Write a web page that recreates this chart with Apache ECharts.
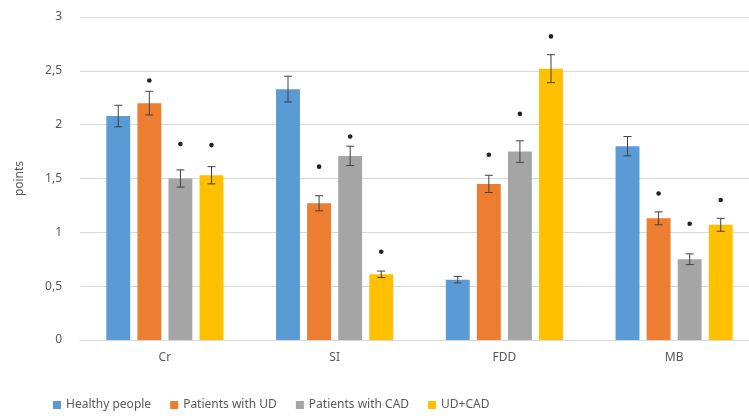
<!DOCTYPE html>
<html style="height: 100%">
<head>
  <meta charset="utf-8">
</head>
<body style="height: 100%; margin: 0; background: #fff">
  <div id="container" style="height: 418px; width: 749px;"></div>
  <script type="text/javascript" src="https://cdn.jsdelivr.net/npm/echarts@6/dist/echarts.min.js"></script>
  <script type="text/javascript">
    var categories = ['Cr', 'SI', 'FDD', 'MB'];
    var seriesNames = ['Healthy people', 'Patients with UD', 'Patients with CAD', 'UD+CAD'];
    var healthy = [2.08, 2.33, 0.56, 1.80];
    var patientsUD = [2.20, 1.27, 1.45, 1.13];
    var patientsCAD = [1.50, 1.71, 1.75, 0.75];
    var udCad = [1.53, 0.61, 2.52, 1.07];
    // error bar half-widths
    var healthyErr = [0.10, 0.12, 0.03, 0.09];
    var patientsUDErr = [0.11, 0.07, 0.08, 0.06];
    var patientsCADErr = [0.08, 0.09, 0.10, 0.05];
    var udCadErr = [0.08, 0.03, 0.13, 0.06];
    // significance marks (dot height), null = no mark
    var healthyMark = [null, null, null, null];
    var patientsUDMark = [2.41, 1.61, 1.72, 1.36];
    var patientsCADMark = [1.82, 1.89, 2.10, 1.08];
    var udCadMark = [1.81, 0.82, 2.82, 1.30];
    var yTicks = ['0', '0,5', '1', '1,5', '2', '2,5', '3'];

    var colors = ['#5B9BD5', '#ED7D31', '#A5A5A5', '#FFC000'];
    var values = [healthy, patientsUD, patientsCAD, udCad];
    var errs = [healthyErr, patientsUDErr, patientsCADErr, udCadErr];
    var marks = [healthyMark, patientsUDMark, patientsCADMark, udCadMark];
    var catGap = 0.31, barGap = 0.3, n = 4;

    var series = [];
    values.forEach(function (vals, i) {
      series.push({
        name: seriesNames[i],
        type: 'bar',
        data: vals,
        barGap: '30%',
        barCategoryGap: '31%',
        itemStyle: { color: colors[i] },
        z: 2
      });
    });
    values.forEach(function (vals, i) {
      series.push({
        name: seriesNames[i] + ' err',
        type: 'custom',
        z: 5,
        silent: true,
        data: vals.map(function (v, k) { return [k, v, errs[i][k], marks[i][k]]; }),
        encode: { x: 0, y: 1 },
        renderItem: function (params, api) {
          var k = api.value(0);
          var v = api.value(1);
          var e = api.value(2);
          var m = api.value(3);
          var band = api.size([1, 0])[0];
          var bw = band * (1 - catGap) / (n + (n - 1) * barGap);
          var off = -band * (1 - catGap) / 2 + i * bw * (1 + barGap) + bw / 2;
          var hi = api.coord([k, v + e]);
          var lo = api.coord([k, v - e]);
          var x = hi[0] + off;
          var cap = 4;
          var st = { stroke: '#404040', lineWidth: 1 };
          var children = [
            { type: 'line', shape: { x1: x, y1: hi[1], x2: x, y2: lo[1] }, style: st },
            { type: 'line', shape: { x1: x - cap, y1: hi[1], x2: x + cap, y2: hi[1] }, style: st },
            { type: 'line', shape: { x1: x - cap, y1: lo[1], x2: x + cap, y2: lo[1] }, style: st }
          ];
          if (m != null && !isNaN(m)) {
            var p = api.coord([k, m]);
            children.push({ type: 'circle', shape: { cx: x, cy: p[1], r: 2.3 }, style: { fill: '#222' } });
          }
          return { type: 'group', children: children };
        }
      });
    });

    var myChart = echarts.init(document.getElementById('container'));
    var option = {
      backgroundColor: '#fff',
      textStyle: { fontFamily: 'Noto Sans' },
      grid: { left: 80, width: 679, top: 17, bottom: 78, outerBoundsMode: 'none' },
      legend: {
        data: seriesNames,
        bottom: 2,
        left: 48,
        itemWidth: 8,
        itemHeight: 8,
        itemGap: 19,
        icon: 'rect',
        textStyle: { color: '#595959', fontSize: 12 }
      },
      xAxis: {
        type: 'category',
        data: categories,
        axisLine: { lineStyle: { color: '#D9D9D9' } },
        axisTick: { show: false },
        axisLabel: { color: '#595959', fontSize: 12, margin: 12 }
      },
      yAxis: {
        type: 'value',
        min: 0,
        max: 3,
        interval: 0.5,
        name: 'points',
        nameLocation: 'middle',
        nameGap: 54,
        nameTextStyle: { color: '#595959', fontSize: 12 },
        axisLine: { show: false },
        axisTick: { show: false },
        splitLine: { lineStyle: { color: '#D9D9D9' } },
        axisLabel: {
          color: '#595959',
          fontSize: 12,
          margin: 18,
          formatter: function (v) { return yTicks[Math.round(v / 0.5)]; }
        }
      },
      series: series
    };
    myChart.setOption(option, true);
  </script>
</body>
</html>
